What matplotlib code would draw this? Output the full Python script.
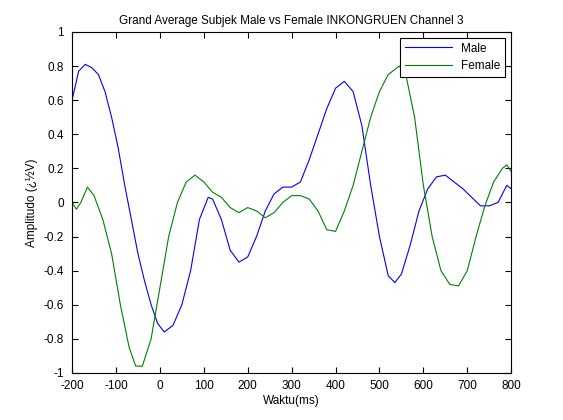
import matplotlib
matplotlib.use("Agg")
import matplotlib.pyplot as plt

## Data
male_t = [-200, -185, -170, -155, -140, -125, -110, -95, -80, -65, -50, -35, -20, -5, 10, 30, 50, 70, 90, 110, 120,
          140, 160, 180, 200, 220, 240, 260, 280, 300, 320, 340, 360, 380, 400, 420, 440, 460, 480, 500, 520, 535,
          550, 570, 590, 610, 630, 650, 670, 690, 710, 730, 750, 770, 790, 800]
male_v = [0.6, 0.77, 0.81, 0.79, 0.75, 0.65, 0.5, 0.32, 0.1, -0.1, -0.3, -0.46, -0.6, -0.71, -0.76, -0.72, -0.6, -0.4,
          -0.1, 0.03, 0.02, -0.1, -0.28, -0.35, -0.32, -0.2, -0.05, 0.05, 0.09, 0.09, 0.12, 0.25, 0.4, 0.55, 0.67,
          0.71, 0.65, 0.45, 0.1, -0.2, -0.43, -0.47, -0.42, -0.25, -0.05, 0.08, 0.15, 0.16, 0.12, 0.08, 0.03, -0.02,
          -0.02, 0.0, 0.1, 0.08]

female_t = [-200, -190, -180, -165, -150, -130, -110, -90, -70, -55, -40, -20, 0, 20, 40, 60, 80, 100, 120, 140, 160,
            180, 200, 220, 240, 260, 280, 300, 320, 340, 360, 380, 400, 420, 440, 460, 480, 500, 520, 545, 560, 580,
            600, 620, 640, 660, 680, 700, 720, 740, 760, 780, 790, 800]
female_v = [0.0, -0.04, 0.0, 0.09, 0.04, -0.1, -0.3, -0.6, -0.85, -0.96, -0.96, -0.8, -0.5, -0.2, 0.0, 0.12, 0.16,
            0.12, 0.06, 0.03, -0.03, -0.06, -0.03, -0.05, -0.09, -0.06, 0.0, 0.04, 0.04, 0.02, -0.05, -0.16, -0.17,
            -0.05, 0.1, 0.3, 0.5, 0.65, 0.75, 0.8, 0.75, 0.5, 0.1, -0.2, -0.4, -0.48, -0.49, -0.4, -0.2, -0.02, 0.12,
            0.2, 0.22, 0.18]

plt.rcParams['font.family'] = ['Liberation Sans', 'DejaVu Sans']
plt.rcParams['font.size'] = 8.5
plt.rcParams['axes.unicode_minus'] = False

fig = plt.figure(figsize=(5.63, 4.2), dpi=100)
ax = fig.add_axes([0.128, 0.112, 0.78, 0.812])
ax.plot(male_t, male_v, color='#0000ff', lw=0.8, label='Male')
ax.plot(female_t, female_v, color='#008000', lw=0.8, label='Female')
ax.set_xlim(-200, 800)
ax.set_ylim(-1, 1)
ax.set_xticks(range(-200, 801, 100))
ax.set_yticks([-1, -0.8, -0.6, -0.4, -0.2, 0, 0.2, 0.4, 0.6, 0.8, 1])
ax.set_yticklabels(['-1', '-0.8', '-0.6', '-0.4', '-0.2', '0', '0.2', '0.4', '0.6', '0.8', '1'])
ax.tick_params(direction='in', top=True, right=True, length=4)
ax.tick_params(axis='x', pad=5)
ax.tick_params(axis='y', pad=6)
ax.set_title('Grand Average Subjek Male vs Female INKONGRUEN Channel 3', fontsize=8.5)
ax.set_xlabel('Waktu(ms)', labelpad=2)
ax.set_ylabel('Amplitudo (\u00bf\u00bdV)')
leg = ax.legend(loc='upper right', fancybox=False, edgecolor='black', framealpha=1, handlelength=4)
leg.get_frame().set_linewidth(0.8)

plt.savefig('out.png', dpi=100)
